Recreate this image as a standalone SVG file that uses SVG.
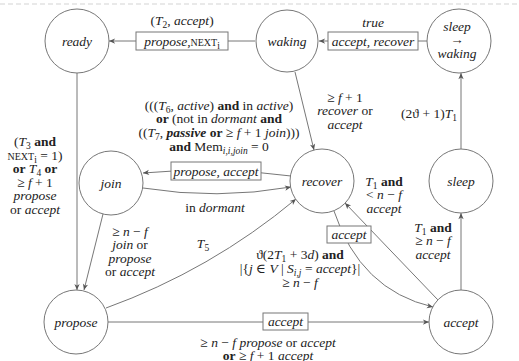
<svg xmlns="http://www.w3.org/2000/svg" width="519" height="361" viewBox="0 0 519 361">
<defs>
<marker id="ah" viewBox="0 0 8 8" refX="7.5" refY="4" markerWidth="7" markerHeight="7" markerUnits="userSpaceOnUse" orient="auto"><path d="M0.5,1 L7.5,4 L0.5,7 L2.5,4 Z" fill="#555"/></marker>
<style>
.t{font-family:"Liberation Serif","DejaVu Serif","Times New Roman",serif;font-size:13.5px;fill:#222;text-anchor:middle}
.i{font-style:italic}
.b{font-weight:bold}
.s{font-size:9.5px}
.sc{font-size:10px}
.node circle{fill:#fff;stroke:#777;stroke-width:1}
.edge{fill:none;stroke:#777;stroke-width:1;marker-end:url(#ah)}
.box{fill:#fff;stroke:#777;stroke-width:1}
</style>
</defs>
<rect width="519" height="361" fill="#fff"/>
<line x1="0" y1="4" x2="519" y2="4" stroke="#e2e2e2" stroke-width="1.5" stroke-dasharray="5,3"/>

<g id="connectors">
<path class="edge" d="M255,41 L109,41"/>
<path class="edge" d="M428,41 L319,41"/>
<path class="edge" d="M461,149 L461,73"/>
<path class="edge" d="M461,290 L461,213"/>
<path class="edge" d="M295,72 L314,150"/>
<path class="edge" d="M77,73 L77,290"/>
<path class="edge" d="M103,214 L84,290"/>
<path class="edge" d="M291,176 Q217,166 143,173"/>
<path class="edge" d="M143,188 Q217,200 291,187"/>
<path class="edge" d="M106,308 Q211,270 296,199"/>
<path class="edge" d="M108,322 L429,322"/>
<path class="edge" d="M334,211 Q360,290 433,307"/>
<path class="edge" d="M438,300 L345,203"/>

<rect class="box" x="136" y="32" width="92" height="18"/>
<rect class="box" x="328" y="32" width="90" height="18"/>
<rect class="box" x="171" y="162" width="90" height="18"/>
<rect class="box" x="327" y="226" width="44" height="17"/>
<rect class="box" x="263" y="313" width="45" height="17"/>
<text class="t" x="182" y="45.5"><tspan class="i">propose</tspan>,<tspan class="sc">NEXT</tspan><tspan class="s" dy="3">i</tspan></text>
<text class="t i" x="373" y="45.5">accept, recover</text>
<text class="t i" x="216" y="175.5">propose, accept</text>
<text class="t i" x="349" y="239">accept</text>
<text class="t i" x="285.5" y="326">accept</text>

<text class="t" x="182" y="25">(<tspan class="i">T</tspan><tspan class="s" dy="3">2</tspan><tspan dy="-3">, </tspan><tspan class="i">accept</tspan>)</text>
<text class="t i" x="373" y="27">true</text>
<text class="t" x="429" y="117.5">(2ϑ + 1)<tspan class="i">T</tspan><tspan class="s" dy="3">1</tspan></text>

<text class="t" x="345" y="101.5">≥ <tspan class="i">f</tspan> + 1</text>
<text class="t" x="345" y="115"><tspan class="i">recover</tspan> or</text>
<text class="t i" x="345" y="128.5">accept</text>

<text class="t" x="219" y="109.5">(((<tspan class="i">T</tspan><tspan class="s" dy="3">6</tspan><tspan dy="-3">, </tspan><tspan class="i">active</tspan>) <tspan class="b">and</tspan> in <tspan class="i">active</tspan>)</text>
<text class="t" x="219" y="123"><tspan class="b">or</tspan> (not in <tspan class="i">dormant</tspan> <tspan class="b">and</tspan></text>
<text class="t" x="219" y="137">((<tspan class="i">T</tspan><tspan class="s" dy="3">7</tspan><tspan dy="-3">, </tspan><tspan class="i b">passive</tspan> <tspan class="b">or</tspan> ≥ <tspan class="i">f</tspan> + 1 <tspan class="i">join</tspan>)))</text>
<text class="t" x="219" y="151"><tspan class="b">and</tspan> Mem<tspan class="s i" dy="3">i,i,join</tspan><tspan dy="-3"> = 0</tspan></text>

<text class="t" x="35" y="146">(<tspan class="i">T</tspan><tspan class="s" dy="3">3</tspan><tspan dy="-3"> </tspan><tspan class="b">and</tspan></text>
<text class="t" x="35" y="159.5"><tspan class="sc">NEXT</tspan><tspan class="s" dy="3">i</tspan><tspan dy="-3"> = 1)</tspan></text>
<text class="t" x="35" y="173"><tspan class="b">or</tspan> <tspan class="i">T</tspan><tspan class="s" dy="3">4</tspan><tspan dy="-3"> </tspan><tspan class="b">or</tspan></text>
<text class="t" x="35" y="186.5">≥ <tspan class="i">f</tspan> + 1</text>
<text class="t i" x="35" y="200">propose</text>
<text class="t" x="35" y="213.5">or <tspan class="i">accept</tspan></text>

<text class="t" x="215" y="211.5">in <tspan class="i">dormant</tspan></text>

<text class="t" x="384" y="185.5"><tspan class="i">T</tspan><tspan class="s" dy="3">1</tspan><tspan dy="-3"> </tspan><tspan class="b">and</tspan></text>
<text class="t" x="384" y="199">&lt; <tspan class="i">n</tspan> − <tspan class="i">f</tspan></text>
<text class="t i" x="384" y="212.5">accept</text>

<text class="t" x="433" y="231.5"><tspan class="i">T</tspan><tspan class="s" dy="3">1</tspan><tspan dy="-3"> </tspan><tspan class="b">and</tspan></text>
<text class="t" x="433" y="245">≥ <tspan class="i">n</tspan> − <tspan class="i">f</tspan></text>
<text class="t i" x="433" y="258.5">accept</text>

<text class="t" x="300" y="258.5">ϑ(2<tspan class="i">T</tspan><tspan class="s" dy="3">1</tspan><tspan dy="-3"> + 3</tspan><tspan class="i">d</tspan>) <tspan class="b">and</tspan></text>
<text class="t" x="300" y="272.5">|{<tspan class="i">j</tspan> ∈ <tspan class="i">V</tspan> | <tspan class="i">S</tspan><tspan class="s i" dy="3">i,j</tspan><tspan dy="-3"> = </tspan><tspan class="i">accept</tspan>}|</text>
<text class="t" x="300" y="286.5">≥ <tspan class="i">n</tspan> − <tspan class="i">f</tspan></text>

<text class="t" x="203" y="247.5"><tspan class="i">T</tspan><tspan class="s" dy="3">5</tspan></text>

<text class="t" x="130" y="235.5">≥ <tspan class="i">n</tspan> − <tspan class="i">f</tspan></text>
<text class="t" x="130" y="249"><tspan class="i">join</tspan> or</text>
<text class="t i" x="130" y="262.5">propose</text>
<text class="t" x="130" y="276">or <tspan class="i">accept</tspan></text>

<text class="t" x="268" y="346.5">≥ <tspan class="i">n</tspan> − <tspan class="i">f</tspan> <tspan class="i">propose</tspan> or <tspan class="i">accept</tspan></text>
<text class="t" x="268" y="359.5"><tspan class="b">or</tspan> ≥ <tspan class="i">f</tspan> + 1 <tspan class="i">accept</tspan></text>
</g>

<g id="ready" class="node"><circle cx="77" cy="41" r="32"/><text class="t i" x="77" y="45.5">ready</text></g>
<g id="waking" class="node"><circle cx="287" cy="41" r="31"/><text class="t i" x="287" y="45.5">waking</text></g>
<g id="sleep-waking" class="node"><circle cx="459" cy="41" r="32"/><text class="t i" x="457" y="31">sleep</text><text class="t" x="457" y="44">→</text><text class="t i" x="457" y="57.5">waking</text></g>
<g id="join" class="node"><circle cx="111" cy="183" r="32"/><text class="t i" x="111" y="187.5">join</text></g>
<g id="recover" class="node"><circle cx="322" cy="181" r="32"/><text class="t i" x="322" y="185.5">recover</text></g>
<g id="sleep" class="node"><circle cx="461" cy="181" r="32"/><text class="t i" x="461" y="185.5">sleep</text></g>
<g id="propose" class="node"><circle cx="76" cy="322" r="32"/><text class="t i" x="76" y="326.5">propose</text></g>
<g id="accept" class="node"><circle cx="461" cy="322" r="32"/><text class="t i" x="461" y="326.5">accept</text></g>
</svg>
